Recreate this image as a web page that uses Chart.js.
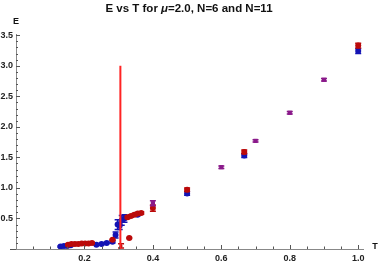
<!DOCTYPE html>
<html>
<head>
<meta charset="utf-8">
<script src="https://cdn.jsdelivr.net/npm/chart.js@4.4.0/dist/chart.umd.min.js"></script>
<style>
  html, body { margin: 0; padding: 0; background: #fff; }
  #wrap { width: 379px; height: 265px; }
</style>
</head>
<body>
<div id="wrap"><canvas id="grafico" width="379" height="265"></canvas></div>
<script>
// datos
const tN6 = [0.13, 0.14, 0.15, 0.16, 0.235, 0.25, 0.265, 0.282, 0.291, 0.297, 0.303, 0.309, 0.317, 0.355, 0.5, 0.667, 1.0];
const eN6 = [0.04, 0.05, 0.05, 0.06, 0.07, 0.08, 0.10, 0.12, 0.23, 0.40, 0.38, 0.47, 0.50, 0.56, 0.91, 1.53, 3.24];
const errN6 = [0.01, 0.01, 0.01, 0.01, 0.01, 0.01, 0.01, 0.02, 0.05, 0.08, 0.06, 0.08, 0.06, 0.02, 0.03, 0.03, 0.04];

const tN11 = [0.152, 0.162, 0.172, 0.182, 0.192, 0.202, 0.212, 0.222, 0.282, 0.307, 0.331, 0.326, 0.336, 0.346, 0.356, 0.366, 0.4, 0.5, 0.667, 1.0];
const eN11 = [0.07, 0.08, 0.08, 0.08, 0.09, 0.09, 0.09, 0.10, 0.15, 0.05, 0.18, 0.52, 0.54, 0.56, 0.58, 0.59, 0.67, 0.97, 1.59, 3.33];
const errN11 = [0.01, 0.01, 0.01, 0.01, 0.01, 0.01, 0.01, 0.01, 0.01, 0.035, 0.01, 0.02, 0.02, 0.02, 0.02, 0.02, 0.05, 0.03, 0.03, 0.04];

const tOtro = [0.4, 0.6, 0.7, 0.8, 0.9];
const eOtro = [0.75, 1.34, 1.77, 2.23, 2.77];
const errOtro = [0.04, 0.02, 0.02, 0.02, 0.02];

const tCritica = [0.305, 0.305];
const eCritica = [0, 3.0];

const ticksX = [0.2, 0.4, 0.6, 0.8, 1.0];
const ticksY = [0.5, 1.0, 1.5, 2.0, 2.5, 3.0, 3.5];

const aPuntos = (xs, ys) => xs.map((x, i) => ({ x: x, y: ys[i] }));

const fuente = '"Liberation Sans", Arial, sans-serif';

// barras de error
const barrasError = {
  id: 'barrasError',
  afterDatasetDraw(chart, args) {
    const ds = chart.data.datasets[args.index];
    if (!ds.errores) return;
    const ctx = chart.ctx;
    const escY = chart.scales.y;
    ctx.save();
    ctx.strokeStyle = ds.borderColor;
    ctx.lineWidth = 1.5;
    args.meta.data.forEach((p, i) => {
      const v = ds.data[i].y, e = ds.errores[i];
      const y1 = escY.getPixelForValue(v + e), y2 = escY.getPixelForValue(v - e);
      ctx.beginPath();
      ctx.moveTo(p.x, y1); ctx.lineTo(p.x, y2);
      ctx.moveTo(p.x - 3, y1); ctx.lineTo(p.x + 3, y1);
      ctx.moveTo(p.x - 3, y2); ctx.lineTo(p.x + 3, y2);
      ctx.stroke();
    });
    ctx.restore();
  }
};

// marcas hacia adentro, titulo y nombres de ejes
const estiloMathematica = {
  id: 'estiloMathematica',
  afterDraw(chart) {
    const ctx = chart.ctx;
    const sx = chart.scales.x, sy = chart.scales.y;
    const ax = chart.chartArea;
    ctx.save();
    ctx.strokeStyle = '#555';
    ctx.lineWidth = 1;
    ctx.beginPath();
    for (let k = 1; k <= 20; k++) {
      const v = k * 0.05;
      const px = Math.round(sx.getPixelForValue(v)) + 0.5;
      const largo = (k % 4 === 0) ? 4 : 2.5;
      ctx.moveTo(px, ax.bottom); ctx.lineTo(px, ax.bottom - largo);
    }
    for (let k = 1; k <= 35; k++) {
      const v = k * 0.1;
      const py = Math.round(sy.getPixelForValue(v)) + 0.5;
      const largo = (k % 5 === 0) ? 4 : 2;
      ctx.moveTo(ax.left, py); ctx.lineTo(ax.left + largo, py);
    }
    // el eje x sobresale un poco a la izquierda
    ctx.moveTo(ax.left - 6, ax.bottom + 0.5); ctx.lineTo(ax.left, ax.bottom + 0.5);
    ctx.stroke();

    ctx.fillStyle = '#111';
    ctx.textBaseline = 'middle';
    // titulo con mu en cursiva
    const partes = [
      ['E vs T for ', 'bold 11.5px ' + fuente],
      ['\u03bc', 'italic bold 11.5px ' + fuente],
      ['=2.0, N=6 and N=11', 'bold 11.5px ' + fuente]
    ];
    let ancho = 0;
    partes.forEach(p => { ctx.font = p[1]; ancho += ctx.measureText(p[0]).width; });
    let x = 189 - ancho / 2;
    ctx.textAlign = 'left';
    partes.forEach(p => { ctx.font = p[1]; ctx.fillText(p[0], x, 9); x += ctx.measureText(p[0]).width; });

    ctx.font = 'bold 9px ' + fuente;
    ctx.textAlign = 'center';
    ctx.fillText('E', ax.left, 22);
    ctx.fillText('T', 375, 247);
    ctx.restore();
  }
};

const ctx = document.getElementById('grafico').getContext('2d');
new Chart(ctx, {
  type: 'scatter',
  data: {
    datasets: [
      {
        label: 'Tc',
        data: aPuntos(tCritica, eCritica),
        showLine: true,
        borderColor: '#ff2424',
        borderWidth: 2,
        pointRadius: 0
      },
      {
        label: 'otro',
        data: aPuntos(tOtro, eOtro),
        errores: errOtro,
        backgroundColor: '#8a1a8a',
        borderColor: '#8a1a8a',
        pointStyle: 'rect',
        pointRadius: 3,
        borderWidth: 0
      },
      {
        label: 'N=11',
        data: aPuntos(tN11, eN11),
        errores: errN11,
        backgroundColor: '#bb0a0a',
        borderColor: '#bb0a0a',
        // el punto pegado a la linea critica casi no se ve
        pointRadius: c => (c.raw && c.raw.x === 0.307) ? 1.5 : 3,
        borderWidth: 0
      },
      {
        label: 'N=6',
        data: aPuntos(tN6, eN6),
        errores: errN6,
        backgroundColor: '#1414b4',
        borderColor: '#1414b4',
        pointRadius: 3,
        borderWidth: 0
      }
    ]
  },
  options: {
    responsive: false,
    animation: false,
    layout: { padding: { top: 34, right: 16, left: 0, bottom: 0 } },
    plugins: {
      legend: { display: false },
      tooltip: { enabled: false }
    },
    scales: {
      x: {
        type: 'linear',
        min: 0,
        max: 1.014,
        afterFit(s) { s.height = 16; },
        afterBuildTicks(s) { s.ticks = ticksX.map(v => ({ value: v })); },
        grid: { display: false, drawTicks: false },
        border: { display: true, color: '#888', width: 1 },
        ticks: {
          padding: 4,
          color: '#222',
          font: { family: fuente, size: 9, weight: 'bold' },
          callback: v => v.toFixed(1)
        }
      },
      y: {
        type: 'linear',
        min: 0,
        max: 3.52,
        afterFit(s) { s.width = 16; },
        afterBuildTicks(s) { s.ticks = ticksY.map(v => ({ value: v })); },
        grid: { display: false, drawTicks: false },
        border: { display: true, color: '#888', width: 1 },
        ticks: {
          padding: 3,
          color: '#222',
          font: { family: fuente, size: 9, weight: 'bold' },
          callback: v => v.toFixed(1)
        }
      }
    }
  },
  plugins: [barrasError, estiloMathematica]
});
</script>
</body>
</html>
